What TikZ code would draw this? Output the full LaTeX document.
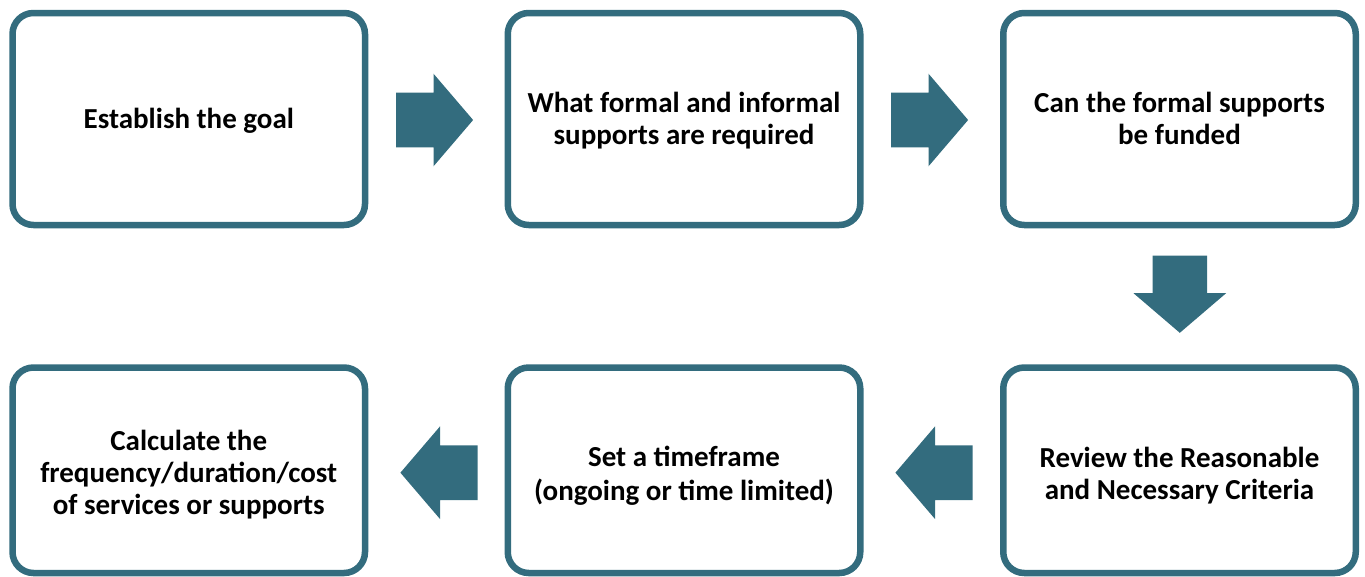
\documentclass[tikz,border=0pt]{standalone}
\usepackage{fontspec}
\setmainfont{Carlito}
\definecolor{flowteal}{RGB}{51,108,126}
\tikzset{
  stepbox/.style={draw=flowteal, line width=6.5pt, rounded corners=21pt, fill=white,
    minimum width=352.5pt, inner sep=0pt},
  toprow/.style={stepbox, minimum height=212pt},
  botrow/.style={stepbox, minimum height=205.5pt},
  steptext/.style={align=center, inner sep=0pt, text=black,
    font=\bfseries\fontsize{29}{32}\selectfont},
  flowarrow/.pic={\fill[flowteal] (-38.5,-27.3) -- (-1,-27.3) -- (-1,-46.3) -- (38.6,0)
      -- (-1,46.3) -- (-1,27.3) -- (-38.5,27.3) -- cycle;}
}
\begin{document}
\begin{tikzpicture}[x=1pt,y=-1pt]
\useasboundingbox (0,0) rectangle (1365,576);
\node[toprow] (b1) at (188.75,119) {};
\node[toprow] (b2) at (684,119) {};
\node[toprow] (b3) at (1179.5,119) {};
\node[botrow] (b6) at (188.75,470.25) {};
\node[botrow] (b5) at (684,470.25) {};
\node[botrow] (b4) at (1179.5,470.25) {};
\node[steptext] (t1) at (188.75,121) {Establish the goal};
\node[steptext] (t2) at (684,121) {What formal and informal\\supports are required};
\node[steptext] (t3) at (1179.5,118.5) {Can the formal supports\\be funded};
\node[steptext] (t6) at (188.75,475) {Calculate the\\frequency/duration/cost\\of services or supports};
\node[steptext] (t5) at (684,476) {Set a timeframe\\[1.5pt](ongoing or time limited)};
\node[steptext] (t4) at (1179.5,475.5) {Review the Reasonable\\and Necessary Criteria};
\pic (a1) at (434.5,120) {flowarrow};
\pic (a2) at (929.5,120) {flowarrow};
\pic[rotate=-90] (a3) at (1179.8,294.2) {flowarrow};
\pic[rotate=180] (a4) at (934,472.7) {flowarrow};
\pic[rotate=180] (a5) at (439,472.7) {flowarrow};
\end{tikzpicture}
\end{document}
